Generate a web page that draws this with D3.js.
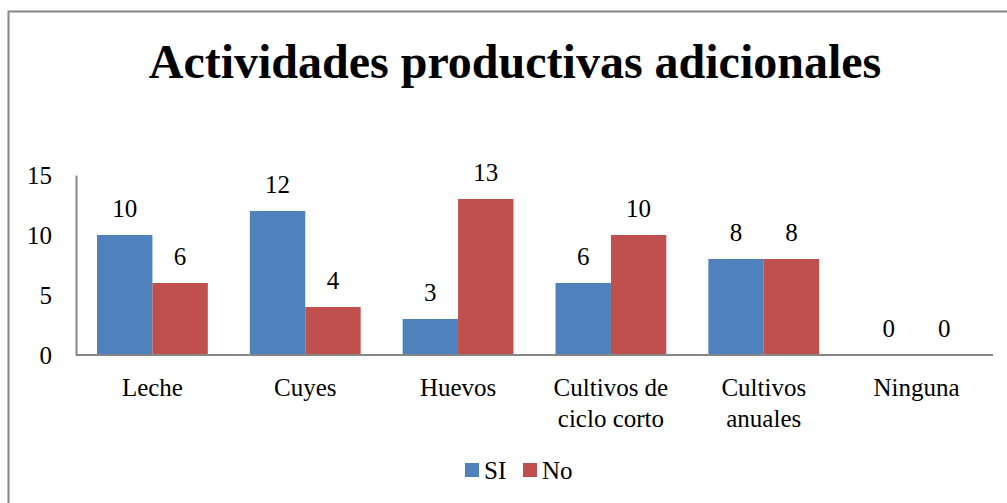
<!DOCTYPE html>
<html><head><meta charset="utf-8">
<script src="https://cdn.jsdelivr.net/npm/d3@7"></script>
<style>body{margin:0;background:#fff;}svg{display:block;}</style>
</head><body>
<script>
const categories = [["Leche"],["Cuyes"],["Huevos"],["Cultivos de","ciclo corto"],["Cultivos","anuales"],["Ninguna"]];
const seriesNames = ["SI","No"];
const siValues = [10,12,3,6,8,0];
const noValues = [6,4,13,10,8,0];
const yTicks = [0,5,10,15];
const colors = ["#4F81BD","#C0504D"];
const title = "Actividades productivas adicionales";

const W=1007,H=503;
const svg=d3.select("body").append("svg").attr("width",W).attr("height",H);
const font="Liberation Serif, Times New Roman, serif";
const fs=25;

svg.append("rect").attr("x",8.5).attr("y",11.5).attr("width",1010).attr("height",520)
  .attr("fill","#fff").attr("stroke","#868686").attr("stroke-width",2);

svg.append("text").attr("x",515).attr("y",78).attr("text-anchor","middle")
  .style("font-family",font).attr("font-weight","bold").attr("font-size",48).text(title);

const pLeft=76,pRight=993,pTop=175,pBottom=355;
const keys=categories.map((c,i)=>i);
const x0=d3.scaleBand().domain(keys).range([pLeft,pRight]).paddingInner(0.275).paddingOuter(0.1375);
const x1=d3.scaleBand().domain(seriesNames).range([0,x0.bandwidth()]);
const y=d3.scaleLinear().domain([0,15]).range([pBottom,pTop]);

const data=keys.map(i=>({i,vals:[siValues[i],noValues[i]]}));

const g=svg.append("g");
const grp=g.selectAll("g.cat").data(data).join("g").attr("transform",d=>`translate(${x0(d.i)},0)`);
grp.selectAll("rect").data(d=>d.vals.map((v,k)=>({v,k}))).join("rect")
  .attr("x",d=>x1(seriesNames[d.k])).attr("width",x1.bandwidth())
  .attr("y",d=>y(d.v)).attr("height",d=>y(0)-y(d.v)).attr("fill",d=>colors[d.k]);
grp.selectAll("text.lbl").data(d=>d.vals.map((v,k)=>({v,k}))).join("text")
  .attr("class","lbl").attr("x",d=>x1(seriesNames[d.k])+x1.bandwidth()/2)
  .attr("y",d=>y(d.v)-18).attr("text-anchor","middle")
  .style("font-family",font).style("font-size",fs+"px").attr("fill","#000").text(d=>d.v);

// y axis
const ya=svg.append("g").attr("transform",`translate(${pLeft},0)`)
  .call(d3.axisLeft(y).tickValues(yTicks).tickSize(0).tickPadding(24));
ya.select(".domain").attr("stroke","#868686").attr("stroke-width",2);
ya.selectAll("text").style("font-family",font).style("font-size",fs+"px").attr("fill","#000");

// x axis
const xa=svg.append("g").attr("transform",`translate(0,${pBottom})`)
  .call(d3.axisBottom(x0).tickSize(0).tickFormat(""));
xa.select(".domain").attr("stroke","#868686").attr("stroke-width",2).attr("d",`M${pLeft},0H${pRight}`);
xa.selectAll(".tick").each(function(i){
  const t=d3.select(this).append("text").attr("fill","#000").style("font-family",font).style("font-size",fs+"px").attr("text-anchor","middle");
  categories[i].forEach((line,j)=>t.append("tspan").attr("x",0).attr("y",41+j*31).text(line));
});

// legend
const lg=svg.append("g");
const items=[{n:"SI",x:465},{n:"No",x:523}];
items.forEach((it,k)=>{
  lg.append("rect").attr("x",it.x).attr("y",463).attr("width",14).attr("height",14).attr("fill",colors[k]);
  lg.append("text").attr("x",it.x+19).attr("y",479).style("font-family",font).style("font-size",fs+"px").text(it.n);
});
</script>
</body></html>
